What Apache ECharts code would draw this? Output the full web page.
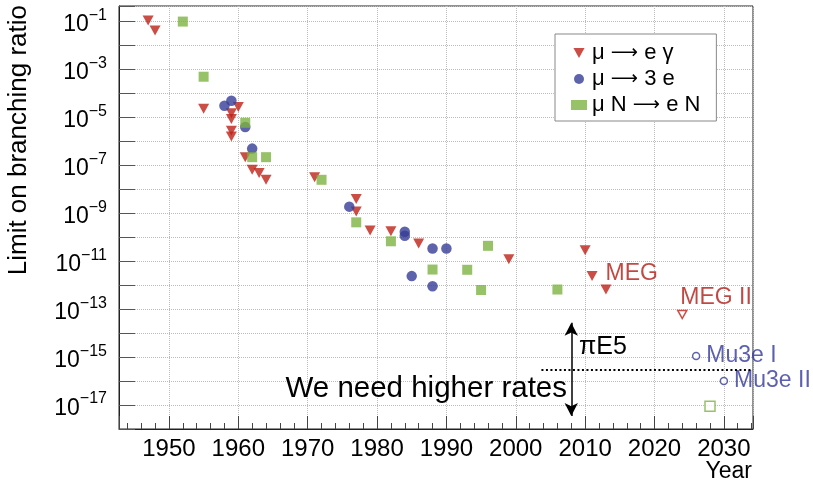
<!DOCTYPE html>
<html>
<head>
<meta charset="utf-8">
<script src="https://cdn.jsdelivr.net/npm/echarts@6/dist/echarts.min.js"></script>
<style>
  html, body { margin: 0; padding: 0; background: #fff; }
  #chart { width: 813px; height: 486px; }
</style>
</head>
<body>
<div id="chart"></div>
<script>
// mu -> e gamma (limits)
const megYears = [1947, 1948, 1955, 1959, 1959, 1959, 1959, 1960, 1961, 1962, 1963, 1964, 1971, 1977, 1977, 1979, 1982, 1986, 1999, 2010, 2011, 2013]
const megValues = [1.1e-1, 4.2e-2, 2.3e-5, 1.5e-5, 8.7e-6, 2.8e-6, 1.6e-6, 2.7e-5, 2.2e-7, 6.6e-8, 4.8e-8, 2.5e-8, 3.2e-8, 4e-9, 1.2e-9, 1.9e-10, 1.8e-10, 5.5e-11, 1.2e-11, 2.9e-11, 2.4e-12, 6.6e-13]
// mu -> 3e
const mu3eYears = [1958, 1959, 1961, 1962, 1976, 1984, 1984, 1985, 1988, 1988, 1990]
const mu3eValues = [3.1e-5, 5e-5, 4e-6, 5e-7, 1.9e-9, 1.7e-10, 1.15e-10, 2.4e-12, 3.4e-11, 9e-13, 3.4e-11]
// mu N -> e N
const convYears = [1952, 1955, 1961, 1962, 1964, 1972, 1977, 1982, 1988, 1993, 1995, 1996, 2006]
const convValues = [1e-1, 5e-4, 6e-6, 2.2e-7, 2.2e-7, 2.5e-8, 4.2e-10, 6.8e-11, 4.5e-12, 4.4e-12, 6.3e-13, 4.4e-11, 6.6e-13]
// future experiments (open markers)
const futureMegYears = [2024]
const futureMegValues = [6e-14]
const futureMegNames = ['MEG II']
const futureMu3eYears = [2026, 2030]
const futureMu3eValues = [1.1e-15, 1e-16]
const futureMu3eNames = ['Mu3e I', 'Mu3e II']
const futureConvYears = [2028]
const futureConvValues = [9e-18]
// pi E5 annotation: double arrow and beam-rate limit line
const arrowYear = 2008
const arrowRange = [2.7e-14, 3.5e-18]
const rateLineYears = [2003.7, 2034.2]
const rateLineValue = 3.1e-16

const seriesNames = ['μ → e γ', 'μ → 3 e', 'μ N → e N']

const FONT = "'Liberation Sans', Arial, Helvetica, sans-serif"
const RED = '#bd2218'
const BLUE = '#363d96'
const GREEN = '#7db342'
const LABEL_RED = '#b31c14'
const LABEL_BLUE = '#33389a'
const TRI_DOWN = 'path://M0,0L10,0L5,9Z'

const yMin = 1e-18
const yMax = Math.pow(10, -0.35)

function pairs (xs, ys) {
  return xs.map((x, i) => [x, ys[i]])
}

let chart = echarts.init(document.getElementById('chart'))

chart.setOption({
  animation: false,
  grid: {
    left: 119,
    right: 60,
    top: 6,
    bottom: 57,
    show: true,
    borderColor: '#222',
    borderWidth: 1
  },
  legend: {
    data: [
      { name: seriesNames[0], icon: TRI_DOWN },
      { name: seriesNames[1], icon: 'circle' },
      { name: seriesNames[2], icon: 'rect' }
    ],
    orient: 'vertical',
    left: 555,
    top: 34,
    padding: [8, 16, 5, 16],
    itemGap: 4,
    itemWidth: 16,
    itemHeight: 10,
    borderColor: '#888',
    borderWidth: 1,
    backgroundColor: '#fff',
    formatter: function (name) {
      return name.replace('→', '{a|⟶}')
    },
    textStyle: {
      fontSize: 22,
      color: '#000',
      fontFamily: FONT,
      rich: {
        a: { fontSize: 19, fontFamily: 'DejaVu Sans', color: '#000' }
      }
    }
  },
  xAxis: {
    type: 'value',
    min: 1942.8,
    max: 2034.2,
    splitNumber: 9,
    minInterval: 10,
    maxInterval: 10,
    axisLine: { lineStyle: { color: '#222' } },
    axisTick: { inside: true, length: 13, lineStyle: { color: '#444' } },
    minorTick: { show: true, splitNumber: 5, length: 6, lineStyle: { color: '#444' } },
    splitLine: { show: true, lineStyle: { type: 'dotted', color: '#bbb' } },
    axisLabel: {
      fontSize: 24,
      margin: 8,
      color: '#000',
      fontFamily: FONT,
      showMinLabel: false,
      showMaxLabel: false,
      formatter: function (v) {
        return String(Math.round(v))
      }
    }
  },
  yAxis: [
    {
      type: 'log',
      min: yMin,
      max: yMax,
      interval: 1,
      splitNumber: 18,
      axisLine: { lineStyle: { color: '#222' } },
      axisTick: { inside: true, length: 16, lineStyle: { color: '#555' } },
      splitLine: { show: true, lineStyle: { type: 'dotted', color: '#bbb' } },
      axisLabel: {
        margin: 12,
        color: '#000',
        fontFamily: FONT,
        formatter: function (v) {
          let e = Math.log10(v)
          let r = Math.round(e)
          if (Math.abs(e - r) > 1e-6 || r % 2 === 0) return ''
          return '{b|10}{s|−' + (-r) + '}'
        },
        rich: {
          b: { fontSize: 23, lineHeight: 30, verticalAlign: 'bottom', padding: [0, 0, 0, 0], fontFamily: FONT, color: '#000' },
          s: { fontSize: 16, lineHeight: 16, verticalAlign: 'bottom', padding: [0, 0, 13, 0], fontFamily: FONT, color: '#000' }
        }
      }
    },
    {
      // second scale, shifted by log10(2), only to draw ROOT-style short ticks at 5x10^n
      type: 'log',
      min: yMin * 2,
      max: yMax * 2,
      interval: 1,
      splitNumber: 18,
      position: 'left',
      axisLine: { show: false },
      axisTick: { inside: true, length: 8, lineStyle: { color: '#555' } },
      splitLine: { show: false },
      axisLabel: { show: false }
    }
  ],
  series: [
    {
      name: seriesNames[0],
      type: 'scatter',
      symbol: TRI_DOWN,
      symbolSize: [11, 10],
      itemStyle: { color: RED },
      data: pairs(megYears, megValues).map((p, i) => {
        if (i === megYears.length - 2) {
          return {
            value: p,
            label: {
              show: true,
              formatter: 'MEG',
              position: 'right',
              distance: 8,
              offset: [0, -2],
              color: LABEL_RED,
              fontSize: 23,
              fontFamily: FONT
            }
          }
        }
        return p
      })
    },
    {
      name: seriesNames[1],
      type: 'scatter',
      symbol: 'circle',
      symbolSize: 10.5,
      itemStyle: { color: BLUE },
      data: pairs(mu3eYears, mu3eValues)
    },
    {
      name: seriesNames[2],
      type: 'scatter',
      symbol: 'rect',
      symbolSize: 10,
      itemStyle: { color: GREEN },
      data: pairs(convYears, convValues)
    },
    {
      name: 'future MEG',
      type: 'scatter',
      symbol: TRI_DOWN,
      symbolSize: [9, 8],
      itemStyle: { color: '#fff', borderColor: RED, borderWidth: 1.5 },
      label: {
        show: true,
        formatter: (p) => futureMegNames[p.dataIndex],
        position: 'top',
        align: 'left',
        distance: 1,
        offset: [-2, 0],
        color: LABEL_RED,
        fontSize: 23,
        fontFamily: FONT
      },
      data: pairs(futureMegYears, futureMegValues),
      markLine: {
        silent: true,
        animation: false,
        label: { show: false },
        data: [
          [
            { coord: [arrowYear, arrowRange[0]], symbol: 'arrow', symbolSize: [10, 13], lineStyle: { color: '#000', width: 1.5, type: 'solid' } },
            { coord: [arrowYear, arrowRange[1]], symbol: 'arrow', symbolSize: [10, 13] }
          ],
          [
            { coord: [rateLineYears[0], rateLineValue], symbol: 'none', lineStyle: { color: '#000', width: 2, type: [2, 2.5] } },
            { coord: [rateLineYears[1], rateLineValue], symbol: 'none' }
          ]
        ]
      }
    },
    {
      name: 'future Mu3e',
      type: 'scatter',
      symbol: 'circle',
      symbolSize: 7,
      itemStyle: { color: '#fff', borderColor: BLUE, borderWidth: 1.5 },
      label: {
        show: true,
        formatter: (p) => futureMu3eNames[p.dataIndex],
        position: 'right',
        distance: 6,
        color: LABEL_BLUE,
        fontSize: 23,
        fontFamily: FONT
      },
      data: pairs(futureMu3eYears, futureMu3eValues)
    },
    {
      name: 'future conversion',
      type: 'scatter',
      symbol: 'rect',
      symbolSize: 10,
      itemStyle: { color: '#fff', borderColor: GREEN, borderWidth: 1.5 },
      data: pairs(futureConvYears, futureConvValues)
    }
  ],
  graphic: [
    {
      type: 'text',
      x: 19,
      y: 5,
      rotation: Math.PI / 2,
      style: { text: 'Limit on branching ratio', font: '26px ' + FONT, fill: '#000', align: 'right', verticalAlign: 'middle' }
    },
    {
      type: 'text',
      x: 752,
      y: 472,
      style: { text: 'Year', font: '23px ' + FONT, fill: '#000', align: 'right', verticalAlign: 'middle' }
    },
    {
      type: 'text',
      x: 579,
      y: 347,
      z: 10,
      style: { text: 'πE5', font: '25px ' + FONT, fill: '#000', align: 'left', verticalAlign: 'middle' }
    },
    {
      type: 'text',
      x: 567,
      y: 389,
      z: 10,
      style: { text: 'We need higher rates', font: '29.5px ' + FONT, fill: '#000', align: 'right', verticalAlign: 'middle' }
    }
  ]
})
</script>
</body>
</html>
